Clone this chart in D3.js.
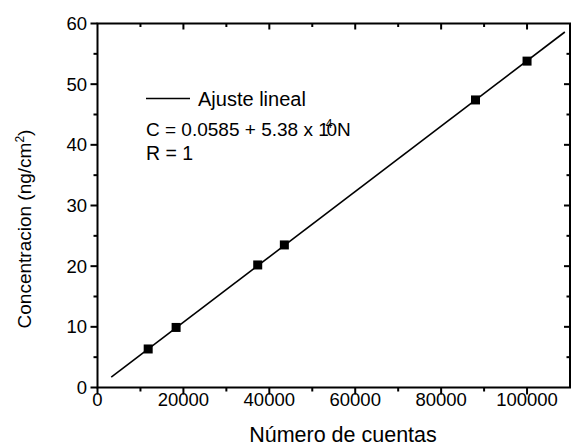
<!DOCTYPE html>
<html lang="es">
<head>
<meta charset="utf-8">
<script src="https://d3js.org/d3.v7.min.js"></script>
<style>
  body { margin: 0; background: #fff; }
  svg text { font-family: "Liberation Sans", Arial, sans-serif; fill: #000; }
</style>
</head>
<body>
<script>
// measured points (counts vs concentration)
var counts = [11800, 18300, 37300, 43500, 88000, 100000];
var conc = [6.35, 9.9, 20.2, 23.5, 47.4, 53.8];

// fit line end points
var fitCounts = [3200, 108800];
var fitConc = [1.7, 58.6];

var xTicks = [0, 20000, 40000, 60000, 80000, 100000];
var xMinor = [10000, 30000, 50000, 70000, 90000];
var yTicks = [0, 10, 20, 30, 40, 50, 60];
var yMinor = [5, 15, 25, 35, 45, 55];

var W = 571, H = 447;
var pL = 97.5, pR = 570, pT = 23.5, pB = 387.5;

var x = d3.scaleLinear().domain([0, 110000]).range([pL, pR]);
var y = d3.scaleLinear().domain([0, 60]).range([pB, pT]);

var svg = d3.select("body").append("svg")
  .attr("width", W).attr("height", H);

// ticks: bottom / left outward, top / right inward
function xt(g, vals, y0, y1) {
  g.selectAll(null).data(vals).enter().append("line")
    .attr("x1", function(d) { return x(d); }).attr("x2", function(d) { return x(d); })
    .attr("y1", y0).attr("y2", y1)
    .attr("stroke", "#000").attr("stroke-width", 2);
}
function yt(g, vals, x0, x1) {
  g.selectAll(null).data(vals).enter().append("line")
    .attr("y1", function(d) { return y(d); }).attr("y2", function(d) { return y(d); })
    .attr("x1", x0).attr("x2", x1)
    .attr("stroke", "#000").attr("stroke-width", 2);
}
var tg = svg.append("g");
xt(tg, xTicks, pB, pB + 7);
xt(tg, xMinor, pB, pB + 4);
xt(tg, xTicks.slice(1), pT, pT + 6);
xt(tg, xMinor, pT, pT + 3.5);
yt(tg, yTicks, pL, pL - 7);
yt(tg, yMinor, pL, pL - 4);
yt(tg, yTicks.slice(1, -1), pR, pR - 6);
yt(tg, yMinor, pR, pR - 3.5);

// frame
svg.append("rect")
  .attr("x", pL).attr("y", pT)
  .attr("width", pR - pL).attr("height", pB - pT)
  .attr("fill", "none").attr("stroke", "#000").attr("stroke-width", 2);

// tick labels
svg.append("g").selectAll("text").data(xTicks).enter().append("text")
  .attr("x", function(d) { return x(d); })
  .attr("y", 406)
  .attr("text-anchor", "middle")
  .style("font-size", "18.5px")
  .text(function(d) { return d; });

svg.append("g").selectAll("text").data(yTicks).enter().append("text")
  .attr("x", 87)
  .attr("y", function(d) { return y(d) + 6.5; })
  .attr("text-anchor", "end")
  .style("font-size", "18.5px")
  .text(function(d) { return d; });

// fit line
var line = d3.line()
  .x(function(d) { return x(d[0]); })
  .y(function(d) { return y(d[1]); });
svg.append("path")
  .datum(d3.zip(fitCounts, fitConc))
  .attr("d", line)
  .attr("fill", "none").attr("stroke", "#000").attr("stroke-width", 1.6);

// points
svg.append("g").selectAll("rect").data(d3.zip(counts, conc)).enter().append("rect")
  .attr("x", function(d) { return x(d[0]) - 4.5; })
  .attr("y", function(d) { return y(d[1]) - 4.5; })
  .attr("width", 9).attr("height", 9)
  .attr("fill", "#000");

// legend
svg.append("line")
  .attr("x1", 146).attr("x2", 190).attr("y1", 98.5).attr("y2", 98.5)
  .attr("stroke", "#000").attr("stroke-width", 1.6);
svg.append("text")
  .attr("x", 198).attr("y", 105.5)
  .style("font-size", "20px")
  .text("Ajuste lineal");

var eq = svg.append("text")
  .attr("x", 146).attr("y", 136)
  .style("font-size", "19px");
eq.append("tspan").text("C = 0.0585 + 5.38 x 1");
eq.append("tspan").attr("dx", -7).attr("dy", -8).style("font-size", "12px").text("-4");
eq.append("tspan").attr("dx", -6).attr("dy", 8).text("0N");

svg.append("text")
  .attr("x", 146).attr("y", 160)
  .style("font-size", "19.5px")
  .text("R = 1");

// axis titles
svg.append("text")
  .attr("x", 343).attr("y", 442)
  .attr("text-anchor", "middle")
  .style("font-size", "21.5px")
  .text("Número de cuentas");

var yl = svg.append("text")
  .attr("transform", "translate(31,229) rotate(-90)")
  .attr("text-anchor", "middle")
  .style("font-size", "19px");
yl.append("tspan").text("Concentracion (ng/cm");
yl.append("tspan").attr("dy", -7).style("font-size", "12px").text("2");
yl.append("tspan").attr("dy", 7).text(")");
</script>
</body>
</html>
